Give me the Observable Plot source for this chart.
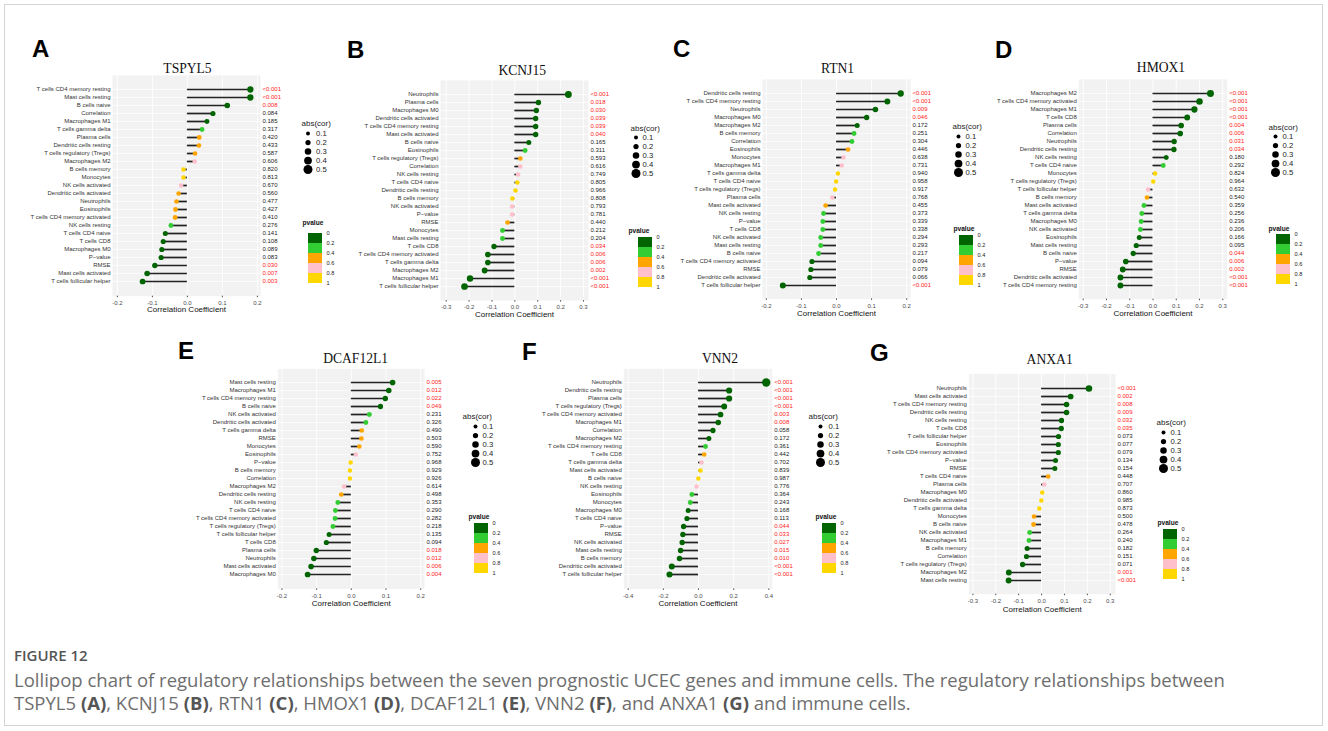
<!DOCTYPE html>
<html><head><meta charset="utf-8">
<script src="https://cdn.jsdelivr.net/npm/d3@7"></script>
<script src="https://cdn.jsdelivr.net/npm/@observablehq/plot@0.6"></script>
<style>
html,body{margin:0;padding:0;background:#fff;}
body{width:1328px;height:731px;position:relative;overflow:hidden;font-family:"Liberation Sans",Arial,sans-serif;}
#border{position:absolute;left:4px;top:4px;width:1319px;height:722px;border:1px solid #d4d4d4;box-sizing:border-box;}
.letter{position:absolute;font-family:"Liberation Sans",Arial,sans-serif;font-weight:bold;font-size:24px;line-height:24px;color:#000;}
#figtitle{position:absolute;left:14px;top:645px;font-family:"Open Sans",sans-serif;font-weight:600;font-size:15px;line-height:20px;color:#555;white-space:nowrap;}
#caption{position:absolute;left:14px;top:668px;font-family:"Open Sans",sans-serif;font-size:16px;line-height:23px;color:#6e6e6e;white-space:nowrap;}
#caption b{color:#555;}
svg.pl{position:absolute;max-width:none;overflow:hidden;}
</style>
</head><body>
<div id="border"></div>
<div id="figtitle">FIGURE 12</div>
<div id="caption"><span id="cap1">Lollipop chart of regulatory relationships between the seven prognostic UCEC genes and immune cells. The regulatory relationships between</span><br><span id="cap2">TSPYL5 <b>(A)</b>, KCNJ15 <b>(B)</b>, RTN1 <b>(C)</b>, HMOX1 <b>(D)</b>, DCAF12L1 <b>(E)</b>, VNN2 <b>(F)</b>, and ANXA1 <b>(G)</b> and immune cells.</span></div>
<script>
// ---------------- DATA ----------------
const genes = ["TSPYL5","KCNJ15","RTN1","HMOX1","DCAF12L1","VNN2","ANXA1"];
const panelLetters = ["A","B","C","D","E","F","G"];

const namesA = ["T cells CD4 memory resting","Mast cells resting","B cells naive","Correlation","Macrophages M1","T cells gamma delta","Plasma cells","Dendritic cells resting","T cells regulatory (Tregs)","Macrophages M2","B cells memory","Monocytes","NK cells activated","Dendritic cells activated","Neutrophils","Eosinophils","T cells CD4 memory activated","NK cells resting","T cells CD4 naive","T cells CD8","Macrophages M0","P\u2212value","RMSE","Mast cells activated","T cells follicular helper"];
const corA = [0.180,0.180,0.114,0.073,0.056,0.042,0.034,0.033,0.022,0.021,-0.011,-0.011,-0.018,-0.025,-0.031,-0.034,-0.035,-0.047,-0.063,-0.069,-0.073,-0.075,-0.093,-0.115,-0.128];
const pA = ["<0.001","<0.001","0.008","0.084","0.185","0.317","0.420","0.433","0.587","0.606","0.820","0.813","0.670","0.560","0.477","0.427","0.410","0.276","0.141","0.108","0.089","0.083","0.030","0.007","0.003"];

const namesB = ["Neutrophils","Plasma cells","Macrophages M0","Dendritic cells activated","T cells CD4 memory resting","Mast cells activated","B cells naive","Eosinophils","T cells regulatory (Tregs)","Correlation","NK cells resting","T cells CD4 naive","Dendritic cells resting","B cells memory","NK cells activated","P\u2212value","RMSE","Monocytes","Mast cells resting","T cells CD8","T cells CD4 memory activated","T cells gamma delta","Macrophages M2","Macrophages M1","T cells follicular helper"];
const corB = [0.234,0.103,0.094,0.091,0.091,0.091,0.061,0.045,0.024,0.024,0.014,0.011,0.003,-0.011,-0.012,-0.012,-0.032,-0.054,-0.054,-0.091,-0.118,-0.118,-0.132,-0.196,-0.220];
const pB = ["<0.001","0.018","0.030","0.039","0.039","0.040","0.165","0.311","0.593","0.616","0.749","0.805","0.966","0.808","0.793","0.781","0.440","0.212","0.204","0.034","0.006","0.006","0.002","<0.001","<0.001"];

const namesC = ["Dendritic cells resting","T cells CD4 memory resting","Neutrophils","Macrophages M0","Macrophages M2","B cells memory","Correlation","Eosinophils","Monocytes","Macrophages M1","T cells gamma delta","T cells CD4 naive","T cells regulatory (Tregs)","Plasma cells","Mast cells activated","NK cells resting","P\u2212value","T cells CD8","NK cells activated","Mast cells resting","B cells naive","T cells CD4 memory activated","RMSE","Dendritic cells activated","T cells follicular helper"];
const corC = [0.183,0.145,0.111,0.086,0.059,0.050,0.044,0.033,0.020,0.015,0.004,-0.001,-0.004,-0.012,-0.031,-0.037,-0.039,-0.039,-0.045,-0.045,-0.051,-0.070,-0.073,-0.076,-0.153];
const pC = ["<0.001","<0.001","0.009","0.046","0.172","0.251","0.304","0.446","0.638","0.731","0.940","0.958","0.917","0.768","0.455","0.373","0.339","0.338","0.294","0.293","0.217","0.094","0.079","0.066","<0.001"];

const namesD = ["Macrophages M2","T cells CD4 memory activated","Macrophages M1","T cells CD8","Plasma cells","Correlation","Neutrophils","Dendritic cells resting","NK cells resting","T cells CD4 naive","Monocytes","T cells regulatory (Tregs)","T cells follicular helper","B cells memory","Mast cells activated","T cells gamma delta","Macrophages M0","NK cells activated","Eosinophils","Mast cells resting","B cells naive","P\u2212value","RMSE","Dendritic cells activated","T cells CD4 memory resting"];
const corD = [0.247,0.200,0.178,0.147,0.121,0.117,0.091,0.090,0.057,0.044,0.009,0.001,-0.021,-0.026,-0.039,-0.048,-0.051,-0.054,-0.059,-0.072,-0.085,-0.117,-0.130,-0.140,-0.140];
const pD = ["<0.001","<0.001","<0.001","<0.001","0.004","0.006","0.031","0.034","0.180","0.292","0.824","0.964","0.632","0.540","0.359","0.256","0.236","0.206","0.166","0.095","0.044","0.006","0.002","<0.001","<0.001"];

const namesE = ["Mast cells resting","Macrophages M1","T cells CD4 memory resting","B cells naive","NK cells activated","Dendritic cells activated","T cells gamma delta","RMSE","Monocytes","Eosinophils","P\u2212value","B cells memory","Correlation","Macrophages M2","Dendritic cells resting","NK cells resting","T cells CD4 naive","T cells CD4 memory activated","T cells regulatory (Tregs)","T cells follicular helper","T cells CD8","Plasma cells","Neutrophils","Mast cells activated","Macrophages M0"];
const corE = [0.119,0.108,0.098,0.084,0.052,0.042,0.030,0.029,0.023,0.013,-0.002,-0.004,-0.004,-0.021,-0.029,-0.039,-0.046,-0.047,-0.053,-0.064,-0.072,-0.101,-0.108,-0.116,-0.126];
const pE = ["0.005","0.012","0.022","0.049","0.231","0.326","0.490","0.503","0.590","0.752","0.968","0.929","0.926","0.614","0.498","0.353","0.290","0.282","0.218","0.135","0.094","0.018","0.012","0.006","0.004"];

const namesF = ["Neutrophils","Dendritic cells resting","Plasma cells","T cells regulatory (Tregs)","T cells CD4 memory activated","Macrophages M1","Correlation","Macrophages M2","T cells CD4 memory resting","T cells CD8","T cells gamma delta","Mast cells activated","B cells naive","NK cells resting","Eosinophils","Monocytes","Macrophages M0","T cells CD4 naive","P\u2212value","RMSE","NK cells activated","Mast cells resting","B cells memory","Dendritic cells activated","T cells follicular helper"];
const corF = [0.385,0.174,0.174,0.146,0.125,0.112,0.082,0.059,0.040,0.032,0.017,0.011,-0.001,-0.011,-0.038,-0.047,-0.059,-0.066,-0.085,-0.089,-0.093,-0.102,-0.108,-0.152,-0.165];
const pF = ["<0.001","<0.001","<0.001","<0.001","0.003","0.008","0.058","0.172","0.361","0.442","0.702","0.839","0.987","0.776","0.364","0.243","0.168","0.113","0.044","0.033","0.027","0.015","0.010","<0.001","<0.001"];

const namesG = ["Neutrophils","Mast cells activated","T cells CD4 memory resting","Dendritic cells resting","NK cells resting","T cells CD8","T cells follicular helper","Eosinophils","T cells CD4 memory activated","P\u2212value","RMSE","T cells CD4 naive","Plasma cells","Macrophages M0","Dendritic cells activated","T cells gamma delta","Monocytes","B cells naive","NK cells activated","Macrophages M1","B cells memory","Correlation","T cells regulatory (Tregs)","Macrophages M2","Mast cells resting"];
const corG = [0.207,0.127,0.109,0.109,0.087,0.086,0.074,0.073,0.073,0.061,0.058,0.029,0.012,0.003,-0.001,-0.010,-0.033,-0.035,-0.052,-0.055,-0.063,-0.066,-0.083,-0.143,-0.144];
const pG = ["<0.001","0.002","0.008","0.009","0.032","0.035","0.073","0.077","0.079","0.134","0.154","0.448","0.707","0.860","0.985","0.873","0.500","0.478","0.264","0.240","0.182","0.151","0.071","0.001","<0.001"];

const ticks2 = [-0.2,-0.1,0,0.1,0.2];
const ticks3 = [-0.3,-0.2,-0.1,0,0.1,0.2,0.3];
const ticks4 = [-0.4,-0.2,0,0.2,0.4];
const sizeVals = [0.1,0.2,0.3,0.4,0.5];
const pBreaks = [0,0.2,0.4,0.6,0.8,1];
const pColors = ["#006400","#32CD32","#FFA500","#FFC0CB","#FFD700"];
const xTitle = "Correlation Coefficient";
const sizeTitle = "abs(cor)";
const colorTitle = "pvalue";

// ---------------- LAYOUT ----------------
const layout = [
  {names:namesA, cor:corA, p:pA, ticks:ticks2, domain:[-0.214,0.209], svg:[30,40,300,322], frame:[112,260,74.9,295.7], tdy:-11.9, tdx:1, ady:15.3, letter:[32,40],
   leg:{absT:[301,120], dotX:307.5, dotY0:131, labX:315.5, pT:[302,220], barX:308, barTop:233}},
  {names:namesB, cor:corB, p:pB, ticks:ticks3, domain:[-0.325,0.322], svg:[345,40,625,325], frame:[440,588,79.9,300.1], tdy:-14.9, tdx:7.7, ady:15.9, letter:[347,41],
   leg:{absT:[630,125], dotX:635.5, dotY0:135, labX:642, pT:[628,228], barX:638, barTop:237}},
  {names:namesC, cor:corC, p:pC, ticks:ticks2, domain:[-0.211,0.211], svg:[665,40,945,325], frame:[762,910,78.9,298.4], tdy:-15.9, tdx:1, ady:16.6, letter:[673,40],
   leg:{absT:[952,123], dotX:958, dotY0:134, labX:965, pT:[953,226], barX:959, barTop:235}},
  {names:namesD, cor:corD, p:pD, ticks:ticks3, domain:[-0.319,0.319], svg:[990,40,1262,325], frame:[1078.3,1226.7,78.9,298.7], tdy:-16.9, tdx:8, ady:16.3, letter:[995,41],
   leg:{absT:[1268,124], dotX:1275, dotY0:134, labX:1282, pT:[1268,226], barX:1276, barTop:234}},
  {names:namesE, cor:corE, p:pE, ticks:ticks2, domain:[-0.212,0.211], svg:[180,335,455,620], frame:[277.3,424,368.3,588.4], tdy:-15.3, tdx:4.5, ady:16.6, letter:[178,342],
   leg:{absT:[462,413], dotX:475, dotY0:424, labX:482, pT:[468,514], barX:474, barTop:523}},
  {names:namesF, cor:corF, p:pF, ticks:ticks4, domain:[-0.425,0.419], svg:[540,335,800,620], frame:[623.3,771.7,368.3,588.4], tdy:-15.8, tdx:22, ady:16.6, letter:[522,343],
   leg:{absT:[808,413], dotX:820, dotY0:424, labX:828, pT:[815,514], barX:822, barTop:523}},
  {names:namesG, cor:corG, p:pG, ticks:ticks3, domain:[-0.318,0.323], svg:[880,335,1150,625], frame:[968.3,1115,373.3,593.7], tdy:-19.8, tdx:7.5, ady:17.3, letter:[870,344],
   leg:{absT:[1156,419], dotX:1163, dotY0:430, labX:1170, pT:[1157,520], barX:1163, barTop:529}}
];

const rMain = {type:"linear", domain:[0,0.5], range:[2.2,4.8]};
const rLegend = {type:"linear", domain:[0.1,0.5], range:[2,4.5]};
const colorScale = {type:"threshold", domain:pBreaks.slice(1,-1), range:pColors};
const baseStyle = {fontFamily:'"Liberation Sans", Arial, sans-serif', fontSize:"6px", color:"#222", background:"transparent", maxWidth:"none", overflow:"hidden"};

function pnum(s){ return s.startsWith("<") ? 0.0005 : +s; }
function place(svg, x, y){ svg.classList.add("pl"); svg.style.left = x+"px"; svg.style.top = y+"px"; document.body.appendChild(svg); }

layout.forEach((c, k) => {
  const data = c.names.map((name,i)=>({name, cor:c.cor[i], plab:c.p[i], p:pnum(c.p[i])}));
  const sig = data.filter(d=>d.p<0.05), non = data.filter(d=>d.p>=0.05);
  const [sl, st, sr, sb] = c.svg;
  const [fl, frr, ft, fb] = c.frame;
  const svg = Plot.plot({
    width: sr-sl, height: sb-st,
    marginLeft: fl-sl, marginRight: sr-frr, marginTop: ft-st, marginBottom: sb-fb,
    style: baseStyle,
    x: {domain: c.domain},
    y: {type:"point", domain: c.names, padding:0.5},
    r: rMain,
    color: colorScale,
    marks: [
      Plot.frame({fill:"#F2F2F2", stroke:"none"}),
      Plot.gridX({ticks: c.ticks, stroke:"white", strokeOpacity:1, strokeWidth:0.9}),
      Plot.gridY({stroke:"white", strokeOpacity:1, strokeWidth:0.7}),
      Plot.axisX({ticks: c.ticks, tickFormat: d=>d.toFixed(1), tickSize:1.5, tickPadding:3, fontSize:6, color:"#4D4D4D", label:null}),
      Plot.axisY({tickSize:0, tickPadding:2, fontSize:6, color:"#333", label:null}),
      Plot.ruleY(data, {y:"name", x1:d=>0, x2:"cor", stroke:"#222", strokeWidth:1.7}),
      Plot.dot(data, {y:"name", x:"cor", r:d=>Math.abs(d.cor), fill:"p", stroke:"none"}),
      Plot.text(non, {y:"name", text:"plab", frameAnchor:"right", textAnchor:"start", dx:2, fontSize:6, fill:"#222"}),
      Plot.text(sig, {y:"name", text:"plab", frameAnchor:"right", textAnchor:"start", dx:2, fontSize:6, fill:"#FF2020"}),
      Plot.text([genes[k]], {text:d=>d, frameAnchor:"top", dy:c.tdy, dx:c.tdx, fontFamily:'"Liberation Serif", "Times New Roman", serif', fontSize:13.6, fill:"#111"}),
      Plot.text([xTitle], {text:d=>d, frameAnchor:"bottom", dy:c.ady, fontSize:8, fill:"#111"})
    ]
  });
  place(svg, sl, st);

  // size legend
  const L = c.leg;
  const lx = L.absT[0]-3, ly = L.absT[1]-8, LW = 50, LH = 72;
  const ml = L.dotX - lx, mt = L.dotY0 - ly;
  const sLeg = Plot.plot({
    width: LW, height: LH,
    marginLeft: ml, marginRight: LW-ml-1, marginTop: mt, marginBottom: LH-(mt+39),
    style: baseStyle,
    y: {type:"point", domain:sizeVals, padding:0, axis:null},
    r: rLegend,
    marks: [
      Plot.dot(sizeVals, {y:d=>d, r:d=>d, fill:"#000", stroke:"none", frameAnchor:"left"}),
      Plot.text(sizeVals, {y:d=>d, text:d=>d.toFixed(1), frameAnchor:"left", dx:L.labX-L.dotX, textAnchor:"start", fontSize:7.7, fill:"#222"}),
      Plot.text([sizeTitle], {text:d=>d, frameAnchor:"top-left", dx:L.absT[0]-L.dotX, dy:L.absT[1]-L.dotY0, textAnchor:"start", fontSize:8, fill:"#222"})
    ]
  });
  place(sLeg, lx, ly);

  // color legend
  const cx = L.pT[0]-3, cy = L.pT[1]-8, CW = 40, CH = 76;
  const cml = L.barX - cx, cmt = L.barTop - cy;
  const bins = pBreaks.slice(0,-1).map((lo,i)=>({lo, hi:pBreaks[i+1]}));
  const cLeg = Plot.plot({
    width: CW, height: CH,
    marginLeft: cml, marginRight: CW-cml-14, marginTop: cmt, marginBottom: CH-(cmt+50),
    style: baseStyle,
    x: {domain:[0,1], axis:null},
    y: {domain:[0,1], reverse:true, axis:null},
    color: colorScale,
    marks: [
      Plot.rect(bins, {x1:d=>0, x2:d=>1, y1:"lo", y2:"hi", fill:d=>(d.lo+d.hi)/2}),
      Plot.text(pBreaks, {y:d=>d, text:d=>String(d), frameAnchor:"right", dx:4, textAnchor:"start", fontSize:5.6, fill:"#222"}),
      Plot.text([colorTitle], {text:d=>d, frameAnchor:"top-left", dx:L.pT[0]-L.barX, dy:L.pT[1]-L.barTop, textAnchor:"start", fontSize:6.6, fontWeight:"bold", fill:"#111"})
    ]
  });
  place(cLeg, cx, cy);

  const div = document.createElement("div");
  div.className = "letter";
  div.textContent = panelLetters[k];
  div.style.left = c.letter[0]+"px";
  div.style.top = (c.letter[1]-3)+"px";
  document.body.appendChild(div);
});

// fit caption width to reference line width
(function(){
  const cap = document.getElementById("caption");
  const s1 = document.getElementById("cap1");
  const w = s1.getBoundingClientRect().width;
  const fs = 16*1211/w;
  cap.style.fontSize = fs.toFixed(2)+"px";
})();
</script>
</body></html>
